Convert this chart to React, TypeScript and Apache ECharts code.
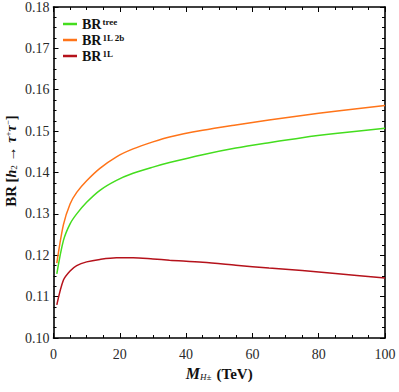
import React, { useEffect, useRef } from "react";
import * as echarts from "echarts";

const massTeV = [1, 3, 5, 7, 10, 14, 19, 24, 30, 35, 45, 55, 65, 75, 85, 100];
const brTree = [0.1155, 0.1236, 0.1276, 0.13, 0.1328, 0.1357, 0.1381, 0.1398, 0.1413, 0.1424, 0.1443, 0.1459, 0.1472, 0.1484, 0.1494, 0.1507];
const br1L2b = [0.1181, 0.1274, 0.1324, 0.1352, 0.138, 0.141, 0.1438, 0.1457, 0.1474, 0.1486, 0.1502, 0.1515, 0.1527, 0.1538, 0.1548, 0.1562];
const br1L = [0.108, 0.114, 0.1162, 0.1175, 0.1184, 0.119, 0.1194, 0.1194, 0.1191, 0.1188, 0.1183, 0.1176, 0.1169, 0.1163, 0.1156, 0.1145];
const seriesNames = ["tree", "1L 2b", "1L"];
const seriesColors = ["#44DD1E", "#FF7419", "#B5121B"];

const SERIF2 = "Liberation Serif";

export default function App() {
  const ref = useRef<HTMLDivElement>(null);
  useEffect(() => {
    if (!ref.current) return;
    const chart = echarts.init(ref.current, undefined, { renderer: "svg" });
    const mk = (vals: number[]) => massTeV.map((x, i) => [x, vals[i]]);
    const allVals = [brTree, br1L2b, br1L];
    const axisLine = { show: true, onZero: false, lineStyle: { color: "#000", width: 1.6 } };
    const axisTick = { show: true, inside: true, length: 5, lineStyle: { color: "#000", width: 1 } };
    const minorTick = { show: true, splitNumber: 4, length: 3, lineStyle: { color: "#000", width: 1 } };
    const labelStyle = { fontFamily: SERIF2, fontSize: 14, color: "#2a2a2a" };
    const richSup = {
      b: { fontFamily: SERIF2, fontSize: 14, fontWeight: "bold", color: "#111" },
      sup: { fontFamily: SERIF2, fontSize: 9, fontWeight: "bold", color: "#111", verticalAlign: "top", padding: [0, 0, 0, 1] },
    };
    chart.setOption({
      animation: false,
      backgroundColor: "#fff",
      textStyle: { fontFamily: SERIF2 },
      grid: { left: 53.5, right: 14, top: 7, bottom: 54 },
      legend: {
        orient: "vertical",
        left: 58,
        top: 12,
        itemWidth: 14,
        itemHeight: 2.5,
        itemGap: 2,
        icon: "rect",
        data: seriesNames,
        textStyle: { fontFamily: SERIF2, rich: richSup },
        formatter: (n: string) => `{b|BR}{sup|${n}}`,
      },
      graphic: [
        {
          type: "text",
          x: 11,
          y: 161,
          rotation: Math.PI / 2,
          style: {
            text: "{b|BR} {n|[}{i|h}{sub|2}{n| → }{i|τ}{sup|+}{i|τ}{sup|−}{n|]}",
            align: "center",
            verticalAlign: "middle",
            rich: {
              b: { fontFamily: SERIF2, fontSize: 15, fontWeight: "bold", fill: "#111" },
              n: { fontFamily: SERIF2, fontSize: 15, fontWeight: "bold", fill: "#111" },
              i: { fontFamily: SERIF2, fontSize: 14, fontStyle: "italic", fontWeight: "bold", fill: "#111" },
              sub: { fontFamily: SERIF2, fontSize: 9, fill: "#111", verticalAlign: "bottom" },
              sup: { fontFamily: SERIF2, fontSize: 9, fill: "#111", verticalAlign: "top" },
            },
          },
        },
      ],
      xAxis: [
        {
          type: "value",
          min: 0,
          max: 100,
          interval: 20,
          position: "bottom",
          axisLine,
          axisTick,
          minorTick,
          splitLine: { show: false },
          axisLabel: { ...labelStyle, margin: 9 },
          name: "{m|M}{s|H±} {t|(TeV)}",
          nameLocation: "middle",
          nameGap: 26,
          nameTextStyle: {
            rich: {
              m: { fontFamily: SERIF2, fontSize: 16, fontWeight: "bold", fontStyle: "italic", color: "#111" },
              s: { fontFamily: SERIF2, fontSize: 9, fontStyle: "italic", color: "#111", verticalAlign: "bottom", padding: [0, 2, 0, 0] },
              t: { fontFamily: SERIF2, fontSize: 15, fontWeight: "bold", color: "#111" },
            },
          },
        },
        {
          type: "value",
          min: 0,
          max: 100,
          interval: 20,
          position: "top",
          axisLine,
          axisTick,
          minorTick,
          splitLine: { show: false },
          axisLabel: { show: false },
        },
      ],
      yAxis: [
        {
          type: "value",
          min: 0.1,
          max: 0.18,
          interval: 0.01,
          position: "left",
          axisLine,
          axisTick,
          minorTick,
          splitLine: { show: false },
          axisLabel: { ...labelStyle, margin: 4, formatter: (v: number) => v.toFixed(2) },
        },
        {
          type: "value",
          min: 0.1,
          max: 0.18,
          interval: 0.01,
          position: "right",
          axisLine,
          axisTick,
          minorTick,
          splitLine: { show: false },
          axisLabel: { show: false },
        },
      ],
      series: seriesNames.map((n, i) => ({
        name: n,
        type: "line",
        data: mk(allVals[i]),
        showSymbol: false,
        smooth: 0.3,
        color: seriesColors[i],
        lineStyle: { width: 1.5, color: seriesColors[i] },
        xAxisIndex: 0,
        yAxisIndex: 0,
      })),
    });
    return () => chart.dispose();
  }, []);
  return <div ref={ref} style={{ width: 399, height: 392, position: "absolute", left: 0, top: 0 }} />;
}
